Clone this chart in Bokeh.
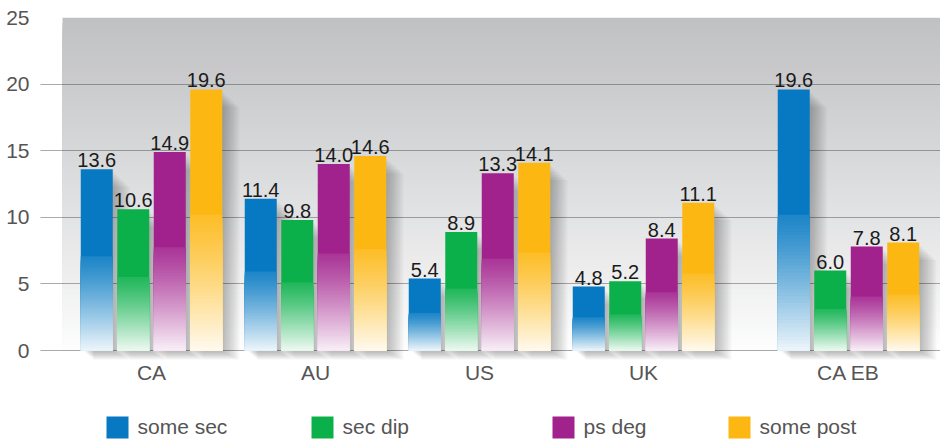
import numpy as np
from bokeh.plotting import figure
from bokeh.models import Range1d, FixedTicker
from bokeh.core.properties import value
from bokeh.embed import file_html
from bokeh.resources import INLINE

# ---------------- data ----------------
categories = ["CA", "AU", "US", "UK", "CA EB"]
series_names = ["some sec", "sec dip", "ps deg", "some post"]
some_sec = [13.6, 11.4, 5.4, 4.8, 19.6]
sec_dip = [10.6, 9.8, 8.9, 5.2, 6.0]
ps_deg = [14.9, 14.0, 13.3, 8.4, 7.8]
some_post = [19.6, 14.6, 14.1, 11.1, 8.1]
series_values = [some_sec, sec_dip, ps_deg, some_post]
series_colors = ["#0679c2", "#0cb04b", "#a1218d", "#fcb713"]
y_ticks = [0, 5, 10, 15, 20, 25]

# ---------------- layout ----------------
W, H = 940, 443
FONT = value("Liberation Sans")
XPX = 1 / 164.0          # x units per pixel
YPX = 1 / 13.32          # y units per pixel
FRAME_L, FRAME_T = 40, 17
x0 = (FRAME_L - 151) * XPX
x1 = x0 + (W - FRAME_L) * XPX
y1 = 25
y0 = 25 - (H - FRAME_T) * YPX

# group centres: last group separated by an extra gap
positions = [float(i) for i in range(len(categories))]
positions[-1] += 0.25
bar_w = 32 * XPX
step = 36.5 * XPX

p = figure(width=W, height=H, output_backend="svg", toolbar_location=None,
           x_range=Range1d(x0, x1), y_range=Range1d(y0, y1),
           x_axis_location=None, min_border_left=FRAME_L, min_border_right=0,
           min_border_top=FRAME_T, min_border_bottom=0)
p.outline_line_color = None
p.background_fill_color = "white"
p.border_fill_color = "white"
p.xgrid.visible = False
p.ygrid.ticker = FixedTicker(ticks=y_ticks)
p.ygrid.grid_line_color = "#3a3a3a"
p.ygrid.grid_line_dash = "1 1"
p.ygrid.grid_line_width = 1
p.ygrid.grid_line_alpha = 0.85
p.yaxis.ticker = FixedTicker(ticks=y_ticks)
p.yaxis.axis_line_color = None
p.yaxis.major_tick_line_color = None
p.yaxis.minor_tick_line_color = None
p.yaxis.major_label_standoff = 5
p.yaxis.major_label_text_font = "Liberation Sans"
p.yaxis.major_label_text_font_size = "21px"
p.yaxis.major_label_text_color = "#555555"


def mix(c, t, base=(255, 255, 255)):
    c = c.lstrip("#")
    r, g, b = int(c[0:2], 16), int(c[2:4], 16), int(c[4:6], 16)
    r = round(r + (base[0] - r) * t)
    g = round(g + (base[1] - g) * t)
    b = round(b + (base[2] - b) * t)
    return "#%02x%02x%02x" % (r, g, b)


# ---------------- plot background gradient (nested, no seams) ----------------
n_bg = 60
edges = np.linspace(0, 25, n_bg + 1)
bg_top, bg_col = [], []
for k in range(n_bg - 1, -1, -1):
    t = edges[k + 1] / 25.0
    bg_top.append(edges[k + 1])
    bg_col.append(mix("#c0c1c3", 1 - min(1.0, t ** 0.9)))
bg = p.quad(left=[(62 - 151) * XPX] * n_bg, right=[x1] * n_bg, bottom=[0] * n_bg,
            top=bg_top, fill_color=bg_col, line_color=None)
bg.level = "image"

# ---------------- bars ----------------
for si, (vals, col) in enumerate(zip(series_values, series_colors)):
    off = (si - 1.5) * step
    xs = [pos + off for pos in positions]
    # soft blurred shadow (many faint layers)
    for k in range(10):
        p.quad(left=[x - bar_w / 2 + (4 + k) * XPX for x in xs],
               right=[x + bar_w / 2 + (2 + 1.7 * k) * XPX for x in xs],
               bottom=[-(2 + 0.8 * k) * YPX] * len(xs),
               top=[v - (3 + 1.6 * k) * YPX for v in vals],
               fill_color="black", fill_alpha=0.028, line_color=None)
    # bar body: solid colour, then nested lighter layers towards the bottom
    n = 40
    L, R, T, C = [], [], [], []
    for x, v in zip(xs, vals):
        L.append(x - bar_w / 2); R.append(x + bar_w / 2); T.append(v); C.append(col)
        for k in range(n, 0, -1):
            top_k = v * 0.52 * k / n
            frac = 1 - k / n  # 0 at fade start, ~1 at bottom
            C.append(mix(col, 0.10 + 0.84 * frac ** 1.15))
            L.append(x - bar_w / 2); R.append(x + bar_w / 2); T.append(top_k)
    p.quad(left=L, right=R, bottom=[0] * len(L), top=T, fill_color=C, line_color=None)
    # value labels
    p.text(x=xs, y=[v + 2 * YPX for v in vals], text=["%.1f" % v for v in vals],
           text_font=FONT, text_font_size="20px", text_color="#1a1a1a",
           text_align="center", text_baseline="bottom")

# ---------------- category labels ----------------
p.text(x=positions, y=[-22 * YPX] * len(positions), text=categories,
       text_font=FONT, text_font_size="21px", text_color="#555555",
       text_align="center", text_baseline="middle")

# ---------------- legend ----------------
leg_x = [(117 - 151) * XPX, (322 - 151) * XPX, (563 - 151) * XPX, (739 - 151) * XPX]
leg_y = -77 * YPX
p.scatter(x=leg_x, y=[leg_y] * 4, marker="square", size=22,
          fill_color=series_colors, line_color=None)
p.text(x=[lx + 20 * XPX for lx in leg_x], y=[leg_y + 1 * YPX] * 4, text=series_names,
       text_font=FONT, text_font_size="21px", text_color="#555555",
       text_align="left", text_baseline="middle")

open("out.html", "w").write(file_html(p, INLINE))
